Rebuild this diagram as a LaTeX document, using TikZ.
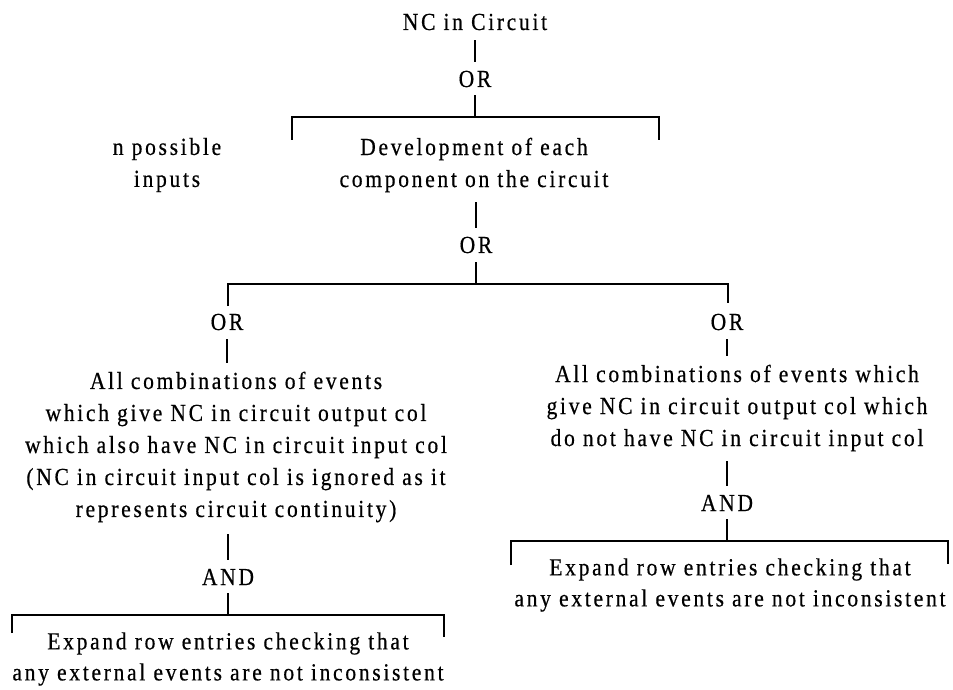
\documentclass[tikz,border=0pt]{standalone}
\usepackage{fontspec}
\setmainfont{Liberation Serif}[LetterSpace=11, FakeStretch=0.88, FakeBold=0.5]
\begin{document}
\begin{tikzpicture}[x=1pt,y=-1pt,
  txt/.style={inner sep=0pt, outer sep=0pt, align=center, font=\fontsize{24.5}{32}\selectfont},
  ln/.style={line width=1.3pt, line cap=butt}]
\useasboundingbox (0,0) rectangle (953,690);
% text nodes
\node[txt] (top) at (475,22) {NC in Circuit};
\node[txt] (or1) at (475,79) {OR};
\node[txt] (npi) at (167,165) {n possible\\inputs};
\node[txt] (dev) at (474,165) {Development of each\\component on the circuit};
\node[txt] (or2) at (476,245) {OR};
\node[txt] (orL) at (227,322) {OR};
\node[txt] (orR) at (727,322) {OR};
\node[txt] (combL) at (236,447) {All combinations of events\\which give NC in circuit output col\\which also have NC in circuit input col\\(NC in circuit input col is ignored as it\\represents circuit continuity)};
\node[txt] (andL) at (228,577) {AND};
\node[txt, font=\fontsize{24.5}{31}\selectfont] (expL) at (228,659) {Expand row entries checking that\\any external events are not inconsistent};
\node[txt] (combR) at (737,408) {All combinations of events which\\give NC in circuit output col which\\do not have NC in circuit input col};
\node[txt] (andR) at (727,503) {AND};
\node[txt, font=\fontsize{24.5}{31}\selectfont] (expR) at (730,585) {Expand row entries checking that\\any external events are not inconsistent};
% junction and bracket-end coordinates
\coordinate (b1) at (475,117);
\coordinate (b1l) at (292,140);
\coordinate (b1r) at (659,140);
\coordinate (b2) at (476,284);
\coordinate (b2l) at (228,306);
\coordinate (b2r) at (728,303);
\coordinate (b3) at (228,615);
\coordinate (b3l) at (12,633);
\coordinate (b3r) at (444,637);
\coordinate (b4) at (727,541);
\coordinate (b4l) at (511,565);
\coordinate (b4r) at (948,564);
% connectors
\draw[ln] ([yshift=-10pt]top.south) -- ([yshift=9pt]top.south |- or1.north);
\draw[ln] ([yshift=-8pt]or1.south) -- (b1);
\draw[ln] (b1l) -- (b1l |- b1) -- (b1r |- b1) -- (b1r);
\draw[ln] ([yshift=-10pt]dev.south -| or2.north) -- ([yshift=9pt]or2.north);
\draw[ln] ([yshift=-9pt]or2.south) -- (b2);
\draw[ln] (b2l) -- (b2l |- b2) -- (b2r |- b2) -- (b2r);
\draw[ln] ([yshift=-9pt]orL.south) -- ([yshift=9pt]orL.south |- combL.north);
\draw[ln] ([yshift=-12pt]combL.south -| andL.north) -- ([yshift=9pt]andL.north);
\draw[ln] ([yshift=-8pt]andL.south) -- (b3);
\draw[ln] (b3l) -- (b3l |- b3) -- (b3r |- b3) -- (b3r);
\draw[ln] ([yshift=-9pt]orR.south) -- ([yshift=9pt]orR.south |- combR.north);
\draw[ln] ([yshift=-10pt]combR.south -| andR.north) -- ([yshift=9pt]andR.north);
\draw[ln] ([yshift=-8pt]andR.south) -- (b4);
\draw[ln] (b4l) -- (b4l |- b4) -- (b4r |- b4) -- (b4r);
\end{tikzpicture}
\end{document}
